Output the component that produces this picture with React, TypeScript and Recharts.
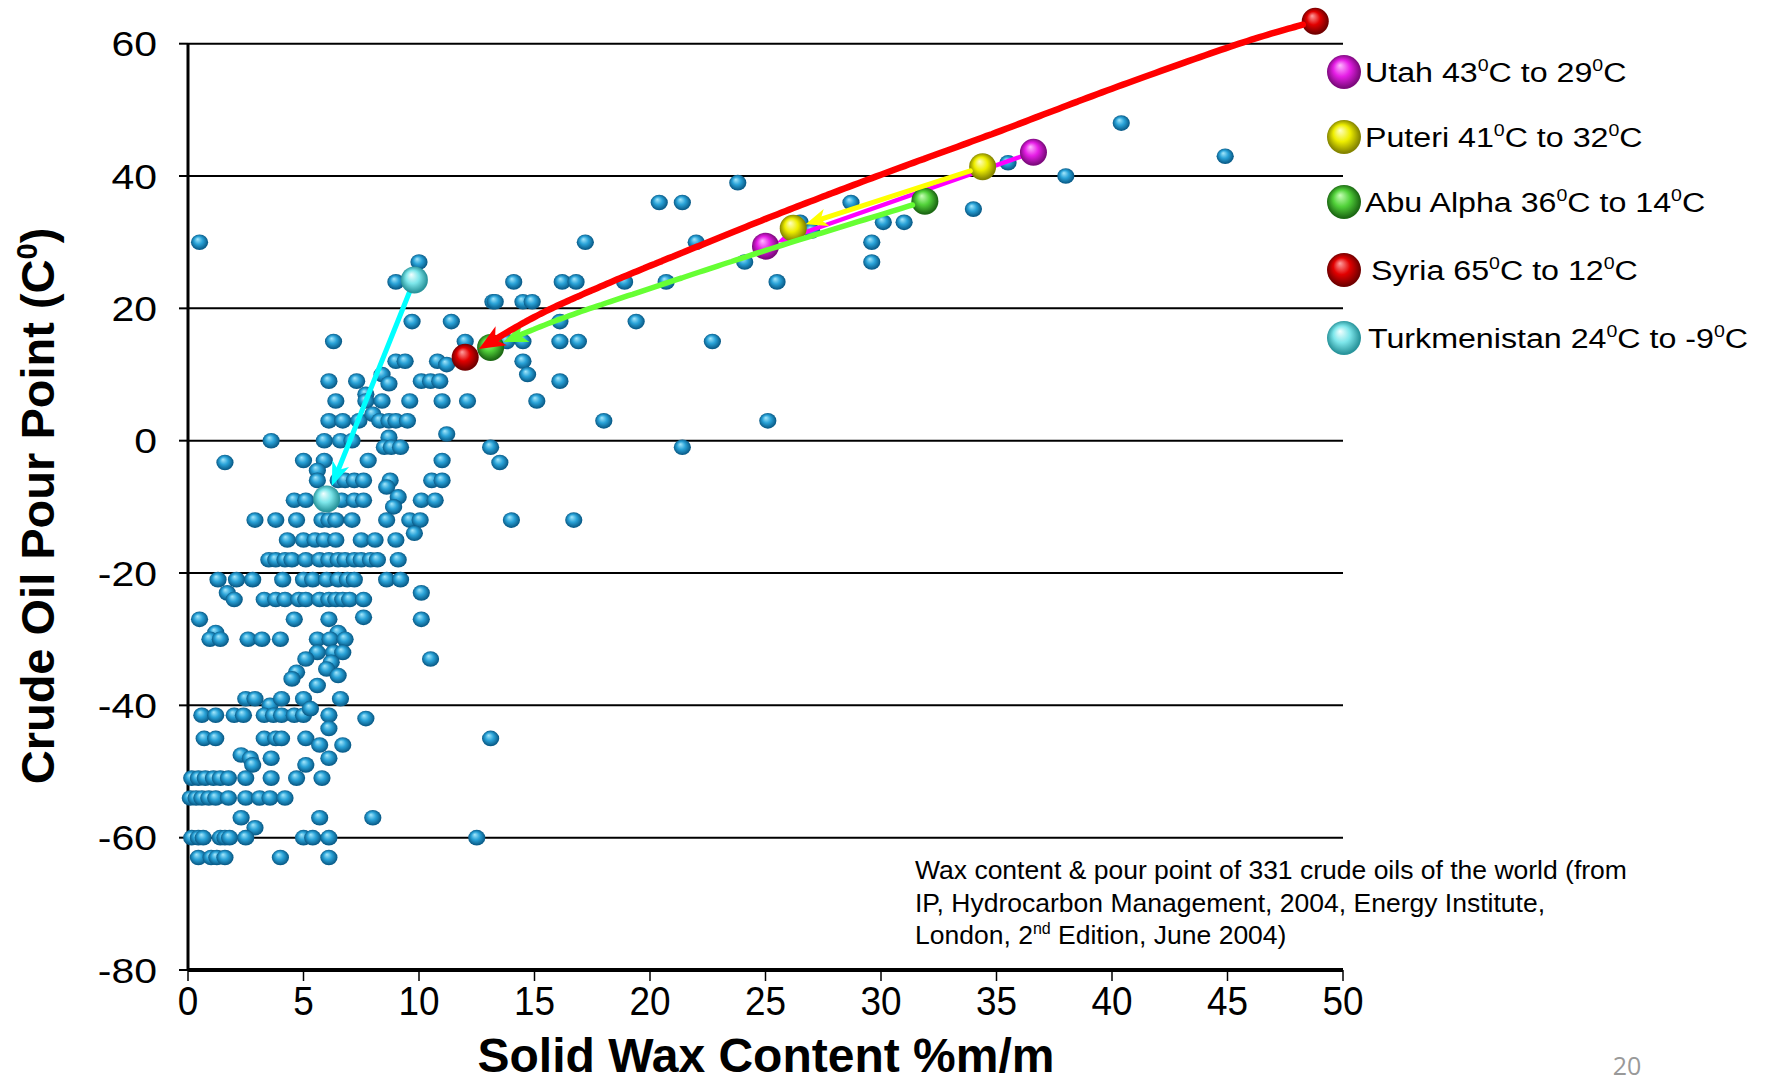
import React from 'react';
import { ScatterChart, Scatter, XAxis, YAxis, ReferenceLine } from 'recharts';

const W = 1765;
const H = 1081;
const FONT = '"Liberation Sans", Arial, Helvetica, sans-serif';

// ---------- data ----------
type Pair = [number, number];

const dotsAboveZero: Pair[] = [
  [0.5, 30], [6.3, 15], [6.1, 9], [6.4, 6], [6.1, 3], [6.7, 3], [3.6, 0], [5.9, 0], [6.6, 0],
  [10.0, 27], [9.0, 24], [13.2, 21], [9.7, 18], [11.4, 18], [12.0, 15], [9.0, 12], [9.4, 12], [10.8, 12], [11.2, 11.5],
  [7.3, 9], [8.4, 10], [8.7, 8.6], [10.1, 9], [10.5, 9], [10.9, 9], [7.7, 7], [7.7, 6], [8.4, 6], [9.6, 6], [11.0, 6], [12.1, 6],
  [7.4, 3], [8.0, 4], [8.3, 3], [8.7, 3], [9.0, 3], [9.5, 3], [7.1, 0], [8.7, 0.5], [11.2, 1],
];

const dotsZeroToMinus20: Pair[] = [
  [1.6, -3.3], [5.0, -3], [5.9, -3], [5.6, -4.5], [5.6, -6], [6.5, -6], [4.6, -9], [5.1, -9], [6.65, -9],
  [2.9, -12], [3.8, -12], [4.7, -12], [5.8, -12], [6.1, -12], [6.4, -12], [4.3, -15], [5.0, -15], [5.5, -15], [5.9, -15], [6.4, -15],
  [3.5, -18], [3.8, -18], [4.2, -18], [4.5, -18], [5.1, -18], [5.7, -18], [6.1, -18], [6.5, -18],
  [8.5, -1], [8.8, -1], [9.2, -1], [13.1, -1], [13.5, -3.3], [7.8, -3], [11.0, -3],
  [6.8, -6], [7.2, -6], [7.6, -6], [8.75, -6], [8.6, -7], [10.55, -6], [11.0, -6],
  [7.2, -9], [7.6, -9], [9.1, -8.5], [8.9, -10], [10.1, -9], [10.7, -9],
  [7.1, -12], [8.6, -12], [9.6, -12], [10.05, -12], [9.8, -14], [14.0, -12], [16.7, -12],
  [7.5, -15], [8.1, -15], [9.0, -15],
  [6.8, -18], [7.2, -18], [7.5, -18], [7.9, -18], [8.2, -18], [9.1, -18],
];

const dotsBelowMinus20: Pair[] = [
  [1.3, -21], [2.1, -21], [2.8, -21], [4.1, -21], [5.0, -21], [5.4, -21], [6.0, -21], [6.5, -21], [6.9, -21], [7.2, -21], [8.6, -21], [9.2, -21],
  [1.7, -23], [2.0, -24], [3.3, -24], [3.8, -24], [4.2, -24], [4.8, -24], [5.1, -24], [5.7, -24], [6.1, -24], [6.4, -24], [6.7, -24], [7.0, -24], [7.6, -24], [10.1, -23],
  [0.5, -27], [4.6, -27], [6.1, -27], [7.6, -26.7], [10.1, -27], [1.2, -29], [6.5, -29],
  [0.95, -30], [1.4, -30], [2.6, -30], [3.2, -30], [4.0, -30], [5.6, -30], [6.15, -30], [6.8, -30],
  [5.6, -32], [6.3, -32], [6.7, -32], [5.1, -33], [6.2, -33.5], [10.5, -33],
  [4.7, -35], [4.5, -36], [6.0, -34.5], [6.5, -35.5], [5.6, -37],
  [2.5, -39], [2.9, -39], [3.55, -40], [4.05, -39], [5.0, -39], [6.6, -39],
  [0.6, -41.5], [1.2, -41.5], [2.0, -41.5], [2.4, -41.5], [3.3, -41.5], [3.7, -41.5], [4.05, -41.5], [4.6, -41.5], [5.0, -41.5], [6.1, -41.5], [5.3, -40.5], [6.1, -43.5], [7.7, -42],
  [0.7, -45], [1.2, -45], [3.3, -45], [3.8, -45], [4.05, -45], [5.1, -45], [5.7, -46], [6.7, -46], [13.1, -45],
  [2.3, -47.5], [2.7, -48], [2.8, -49], [3.6, -48], [5.1, -49], [6.1, -48],
  [0.16, -51], [0.45, -51], [0.75, -51], [1.1, -51], [1.4, -51], [1.75, -51], [2.5, -51], [3.6, -51], [4.7, -51], [5.8, -51],
  [0.1, -54], [0.35, -54], [0.6, -54], [0.9, -54], [1.2, -54], [1.75, -54], [2.5, -54], [3.1, -54], [3.55, -54], [4.2, -54],
  [2.3, -57], [5.7, -57], [8.0, -57], [2.9, -58.5],
  [0.16, -60], [0.45, -60], [0.66, -60], [1.4, -60], [1.6, -60], [1.8, -60], [2.5, -60], [5.0, -60], [5.4, -60], [6.1, -60], [12.5, -60],
  [0.45, -63], [1.0, -63], [1.25, -63], [1.6, -63], [4.0, -63], [6.1, -63],
];

const dotsHighWax: Pair[] = [
  [23.8, 39], [20.4, 36], [21.4, 36], [28.7, 36], [34.0, 35], [38.0, 40], [35.5, 42], [30.1, 33], [31.0, 33],
  [29.6, 30], [29.6, 27], [26.5, 33], [27.0, 31.7], [24.1, 27], [22.0, 30], [17.2, 30], [25.5, 24], [20.7, 24],
  [18.9, 24], [16.2, 24], [16.8, 24], [14.1, 24], [13.3, 21], [14.5, 21], [14.9, 21], [16.1, 18], [19.4, 18],
  [13.8, 15], [14.5, 15], [16.1, 15], [16.9, 15], [22.7, 15], [14.5, 12], [14.7, 10], [16.1, 9], [15.1, 6],
  [18.0, 3], [25.1, 3], [21.4, -1], [40.4, 48], [44.9, 43],
];

// highlighted crudes: [start, end]
const utahPts: Pair[] = [[36.6, 43.6], [25.0, 29.4]];
const puteriPts: Pair[] = [[34.4, 41.4], [26.2, 32.1]];
const abuAlphaPts: Pair[] = [[31.9, 36.2], [13.1, 14.1]];
const syriaPts: Pair[] = [[48.8, 63.4], [12.0, 12.6]];
const turkmenPts: Pair[] = [[9.8, 24.3], [6.0, -8.8]];

// arrow paths (start -> end)
const syriaPath: Pair[] = [[48.8, 63.4], [45.5, 60], [40, 53.2], [35, 46.6], [30, 40.2], [25.5, 34.2], [21.6, 28.7], [18, 23.5], [15, 18.7], [12.0, 12.6]];
const abuAlphaPath: Pair[] = [[31.9, 36.2], [25.5, 29.3], [20.6, 23.7], [16.2, 18.5], [13.1, 14.1]];
const puteriPath: Pair[] = [[34.4, 41.4], [26.2, 32.1]];
const utahPath: Pair[] = [[36.6, 43.6], [25.0, 29.4]];
const turkmenPath: Pair[] = [[9.8, 24.3], [6.0, -8.8]];

const xTicks = [0, 5, 10, 15, 20, 25, 30, 35, 40, 45, 50];
const yTicks = [-80, -60, -40, -20, 0, 20, 40, 60];

const legendNames = ['Utah', 'Puteri', 'Abu Alpha', 'Syria', 'Turkmenistan'];
const legendFrom = [43, 41, 36, 65, 24];
const legendTo = [29, 32, 14, 12, -9];
const legendGrads = ['gMag', 'gYel', 'gGrn', 'gRed', 'gCyn'];

const noteLines = [
  'Wax content & pour point of 331 crude oils of the world (from',
  'IP, Hydrocarbon Management, 2004, Energy Institute,',
];
const noteLast = ['London, 2', 'nd', ' Edition, June 2004)'];

const toPts = (a: Pair[]) => a.map(([x, y]) => ({ x, y }));
const allDots = toPts([...dotsAboveZero, ...dotsZeroToMinus20, ...dotsBelowMinus20, ...dotsHighWax]);

// ---------- geometry helpers ----------
type P = { x: number; y: number };
function spline(pts: P[], steps = 24): P[] {
  if (pts.length < 3) return pts;
  const out: P[] = [];
  for (let i = 0; i < pts.length - 1; i++) {
    const p0 = pts[Math.max(0, i - 1)], p1 = pts[i], p2 = pts[i + 1], p3 = pts[Math.min(pts.length - 1, i + 2)];
    for (let s = 0; s < steps; s++) {
      const t = s / steps, t2 = t * t, t3 = t2 * t;
      const f = (a: number, b: number, c: number, d: number) =>
        0.5 * (2 * b + (-a + c) * t + (2 * a - 5 * b + 4 * c - d) * t2 + (-a + 3 * b - 3 * c + d) * t3);
      out.push({ x: f(p0.x, p1.x, p2.x, p3.x), y: f(p0.y, p1.y, p2.y, p3.y) });
    }
  }
  out.push(pts[pts.length - 1]);
  return out;
}
function cutStart(pl: P[], len: number): P[] {
  let acc = 0;
  for (let i = 0; i < pl.length - 1; i++) {
    const a = pl[i], b = pl[i + 1];
    const d = Math.hypot(b.x - a.x, b.y - a.y);
    if (acc + d >= len) {
      const t = d === 0 ? 0 : (len - acc) / d;
      return [{ x: a.x + (b.x - a.x) * t, y: a.y + (b.y - a.y) * t }, ...pl.slice(i + 1)];
    }
    acc += d;
  }
  return pl.slice(-1);
}
const cutEnd = (pl: P[], len: number) => cutStart([...pl].reverse(), len).reverse();

const arrowRenderer = (color: string, width: number, trimS: number, trimE: number, headL: number, headW: number) =>
  (props: any) => {
    const raw: P[] = (props.points || []).filter((p: any) => p && Number.isFinite(p.x) && Number.isFinite(p.y));
    if (raw.length < 2) return <g />;
    let pl = spline(raw);
    pl = cutStart(pl, trimS);
    pl = cutEnd(pl, trimE);
    const tip = pl[pl.length - 1];
    const backPl = cutEnd(pl, headL);
    const base = backPl[backPl.length - 1];
    const dl = Math.hypot(tip.x - base.x, tip.y - base.y) || 1;
    const ux = (tip.x - base.x) / dl, uy = (tip.y - base.y) / dl;
    const nx = -uy, ny = ux;
    const bx = tip.x - ux * headL, by = tip.y - uy * headL;
    const mx = tip.x - ux * headL * 0.72, my = tip.y - uy * headL * 0.72;
    const lineP = cutEnd(pl, headL * 0.6);
    const d = 'M' + lineP.map((p) => `${p.x.toFixed(1)},${p.y.toFixed(1)}`).join('L');
    const poly = [
      [tip.x, tip.y],
      [bx + (nx * headW) / 2, by + (ny * headW) / 2],
      [mx, my],
      [bx - (nx * headW) / 2, by - (ny * headW) / 2],
    ].map((q) => q.map((v) => v.toFixed(1)).join(',')).join(' ');
    return (
      <g>
        <path d={d} fill="none" stroke={color} strokeWidth={width} strokeLinecap="round" strokeLinejoin="round" />
        <polygon points={poly} fill={color} />
      </g>
    );
  };

const Empty = () => <g />;
const Dot = (props: any) => {
  const { cx, cy } = props;
  if (!Number.isFinite(cx) || !Number.isFinite(cy)) return <g />;
  return <ellipse cx={cx} cy={cy} rx={8.6} ry={7.8} fill="url(#gBlue)" />;
};
const ball = (grad: string, r: number) => (props: any) => {
  const { cx, cy } = props;
  if (!Number.isFinite(cx) || !Number.isFinite(cy)) return <g />;
  return <circle cx={cx} cy={cy} r={r} fill={`url(#${grad})`} />;
};

const YTick = (props: any) => {
  const { x, y, payload } = props;
  return (
    <text transform={`translate(${x},${y + 12.5}) scale(1.17,1)`} textAnchor="end" fontSize={35} fill="#000" fontFamily={FONT}>
      {payload.value}
    </text>
  );
};
const XTick = (props: any) => {
  const { x, y, payload } = props;
  return (
    <text transform={`translate(${x},${y + 30}) scale(0.9,1)`} textAnchor="middle" fontSize={41} fill="#000" fontFamily={FONT}>
      {payload.value}
    </text>
  );
};

const gradDefs: [string, string, string, string][] = [
  ['gBlue', '#a6e8fc', '#2aa3d8', '#0a5d8a'],
  ['gMag', '#ffb8ff', '#e61ee6', '#7e0a7e'],
  ['gYel', '#ffffc8', '#eeee00', '#858500'],
  ['gGrn', '#c8ffb8', '#52d23a', '#1d6a14'],
  ['gRed', '#ffa0a0', '#e20000', '#720000'],
  ['gCyn', '#f4ffff', '#7de6ea', '#2a959c'],
];

const legendY = [72, 137, 202, 270, 338];
const legendTX = [1365, 1365, 1365, 1371, 1368];

export default function App() {
  return (
    <div style={{ position: 'absolute', left: 0, top: 0, width: W, height: H, background: '#fff', fontFamily: FONT }}>
      <svg width={0} height={0} style={{ position: 'absolute' }}>
        <defs>
          {gradDefs.map(([id, hi, mid, lo]) => (
            <radialGradient key={id} id={id} cx="50%" cy="50%" r="55%" fx="38%" fy="30%">
              <stop offset="0%" stopColor={hi} />
              <stop offset="45%" stopColor={mid} />
              <stop offset="88%" stopColor={lo} />
              <stop offset="100%" stopColor={lo} />
            </radialGradient>
          ))}
        </defs>
      </svg>
      <div style={{ position: 'absolute', left: 0, top: 0 }}>
        <ScatterChart width={W} height={H} margin={{ top: 4, right: 422, bottom: 0, left: 0 }}>
          <XAxis
            type="number"
            dataKey="x"
            domain={[0, 50]}
            ticks={xTicks}
            interval={0}
            height={111}
            tickSize={11}
            tickMargin={4}
            axisLine={{ stroke: '#000', strokeWidth: 4 }}
            tickLine={{ stroke: '#000', strokeWidth: 1.5 }}
            tick={<XTick />}
          />
          <YAxis
            type="number"
            dataKey="y"
            domain={[-80, 66]}
            ticks={yTicks}
            interval={0}
            width={188}
            tickSize={9}
            tickMargin={22}
            axisLine={false}
            tickLine={{ stroke: '#000', strokeWidth: 2 }}
            tick={<YTick />}
          />
          {yTicks.filter((v) => v > -80).map((v) => (
            <ReferenceLine key={v} y={v} stroke="#000" strokeWidth={2} />
          ))}
          <ReferenceLine segment={[{ x: 0, y: -80 }, { x: 0, y: 60 }]} stroke="#000" strokeWidth={3} />
          <Scatter data={allDots} shape={Dot} isAnimationActive={false} />
          <Scatter data={toPts(utahPath)} shape={Empty} line={arrowRenderer('#ff00ff', 4.5, 13, 12, 16, 14)} lineType="joint" isAnimationActive={false} />
          <Scatter data={toPts(turkmenPath)} shape={Empty} line={arrowRenderer('#00ffff', 5, 13, 14, 24, 18)} lineType="joint" isAnimationActive={false} />
          <Scatter data={toPts(utahPts)} shape={ball('gMag', 13.5)} isAnimationActive={false} />
          <Scatter data={toPts(puteriPts)} shape={ball('gYel', 13.5)} isAnimationActive={false} />
          <Scatter data={toPts(abuAlphaPts)} shape={ball('gGrn', 13.5)} isAnimationActive={false} />
          <Scatter data={toPts(turkmenPts)} shape={ball('gCyn', 13.5)} isAnimationActive={false} />
          <Scatter data={toPts(syriaPts)} shape={ball('gRed', 13.5)} isAnimationActive={false} />
          <Scatter data={toPts(puteriPath)} shape={Empty} line={arrowRenderer('#ffff00', 5, 13, 13, 22, 18)} lineType="joint" isAnimationActive={false} />
          <Scatter data={toPts(abuAlphaPath)} shape={Empty} line={arrowRenderer('#66ff33', 5.5, 13, 14, 24, 20)} lineType="joint" isAnimationActive={false} />
          <Scatter data={toPts(syriaPath)} shape={Empty} line={arrowRenderer('#ff0000', 6.5, 13, 16, 26, 22)} lineType="joint" isAnimationActive={false} />
        </ScatterChart>
      </div>
      <svg width={W} height={H} style={{ position: 'absolute', left: 0, top: 0, pointerEvents: 'none' }}>
        {/* legend */}
        {legendNames.map((n, i) => (
          <g key={n}>
            <circle cx={1344} cy={legendY[i]} r={17} fill={`url(#${legendGrads[i]})`} />
            <text transform={`translate(${legendTX[i]},${legendY[i] + 10}) scale(1.15,1)`} fontSize={28} fill="#000" fontFamily={FONT}>
              <tspan>{`${n} ${legendFrom[i]}`}</tspan>
              <tspan fontSize={17} dy={-11}>0</tspan>
              <tspan dy={11}>{`C to ${legendTo[i]}`}</tspan>
              <tspan fontSize={17} dy={-11}>0</tspan>
              <tspan dy={11}>C</tspan>
            </text>
          </g>
        ))}
        {/* axis titles */}
        <text transform="translate(54,506) rotate(-90)" textAnchor="middle" fontSize={47} fontWeight="bold" fill="#000" fontFamily={FONT}>
          <tspan>Crude Oil Pour Point (C</tspan>
          <tspan fontSize={29} dy={-17}>0</tspan>
          <tspan dy={17}>)</tspan>
        </text>
        <text x={766} y={1072} textAnchor="middle" fontSize={48} fontWeight="bold" fill="#000" fontFamily={FONT}>
          Solid Wax Content %m/m
        </text>
        {/* note */}
        {noteLines.map((l, i) => (
          <text key={i} x={915} y={879 + i * 32.5} fontSize={26.5} fill="#000" fontFamily={FONT}>{l}</text>
        ))}
        <text x={915} y={944} fontSize={26.5} fill="#000" fontFamily={FONT}>
          <tspan>{noteLast[0]}</tspan>
          <tspan fontSize={16} dy={-10}>{noteLast[1]}</tspan>
          <tspan dy={10}>{noteLast[2]}</tspan>
        </text>
        <text x={1627} y={1075} textAnchor="middle" fontSize={25} fill="#999" fontFamily='"Open Sans", sans-serif'>20</text>
      </svg>
    </div>
  );
}
